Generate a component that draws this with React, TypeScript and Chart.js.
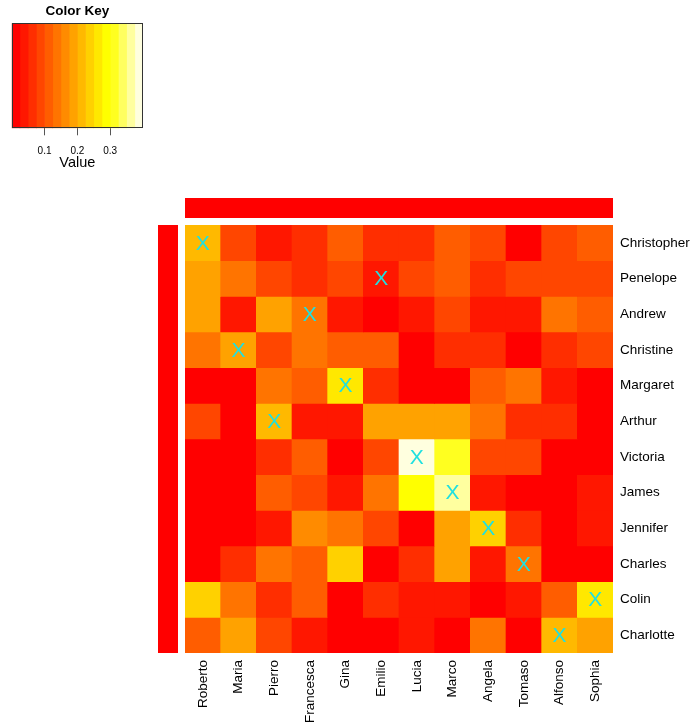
import React, { useEffect, useRef } from 'react';
import { Chart, registerables } from 'chart.js';

Chart.register(...registerables);

// ---------- data ----------
const columnNames = ['Roberto', 'Maria', 'Pierro', 'Francesca', 'Gina', 'Emilio', 'Lucia', 'Marco', 'Angela', 'Tomaso', 'Alfonso', 'Sophia'];
const rowNames = ['Christopher', 'Penelope', 'Andrew', 'Christine', 'Margaret', 'Arthur', 'Victoria', 'James', 'Jennifer', 'Charles', 'Colin', 'Charlotte'];

const christopher = [0.21, 0.09, 0.04, 0.06, 0.11, 0.06, 0.06, 0.11, 0.09, 0.01, 0.09, 0.11];
const penelope = [0.19, 0.14, 0.09, 0.06, 0.09, 0.04, 0.09, 0.11, 0.06, 0.09, 0.09, 0.09];
const andrew = [0.19, 0.04, 0.19, 0.14, 0.04, 0.01, 0.04, 0.09, 0.04, 0.04, 0.14, 0.11];
const christine = [0.14, 0.19, 0.09, 0.14, 0.11, 0.11, 0.01, 0.06, 0.06, 0.01, 0.06, 0.09];
const margaret = [0.01, 0.01, 0.14, 0.11, 0.26, 0.06, 0.01, 0.01, 0.11, 0.14, 0.04, 0.01];
const arthur = [0.09, 0.01, 0.21, 0.04, 0.04, 0.19, 0.19, 0.19, 0.14, 0.06, 0.06, 0.01];
const victoria = [0.01, 0.01, 0.06, 0.11, 0.01, 0.09, 0.39, 0.31, 0.09, 0.09, 0.01, 0.01];
const james = [0.01, 0.01, 0.11, 0.09, 0.04, 0.14, 0.29, 0.36, 0.04, 0.01, 0.01, 0.04];
const jennifer = [0.01, 0.01, 0.04, 0.16, 0.14, 0.09, 0.01, 0.19, 0.24, 0.06, 0.01, 0.04];
const charles = [0.01, 0.06, 0.14, 0.11, 0.24, 0.01, 0.06, 0.19, 0.04, 0.14, 0.01, 0.01];
const colin = [0.24, 0.14, 0.06, 0.11, 0.01, 0.06, 0.04, 0.04, 0.01, 0.04, 0.11, 0.26];
const charlotte = [0.11, 0.19, 0.09, 0.04, 0.01, 0.01, 0.04, 0.01, 0.14, 0.01, 0.21, 0.19];

const cellValues = [christopher, penelope, andrew, christine, margaret, arthur, victoria, james, jennifer, charles, colin, charlotte];

// column index of the "X" note in each row
const noteColumns = [0, 5, 3, 1, 4, 2, 6, 7, 8, 9, 11, 10];
const noteText = 'X';

const rowSideColors = ['#FF0000', '#FF0000', '#FF0000', '#FF0000', '#FF0000', '#FF0000', '#FF0000', '#FF0000', '#FF0000', '#FF0000', '#FF0000', '#FF0000'];
const colSideColors = ['#FF0000', '#FF0000', '#FF0000', '#FF0000', '#FF0000', '#FF0000', '#FF0000', '#FF0000', '#FF0000', '#FF0000', '#FF0000', '#FF0000'];

const keyBreaks = [0, 0.025, 0.05, 0.075, 0.1, 0.125, 0.15, 0.175, 0.2, 0.225, 0.25, 0.275, 0.3, 0.325, 0.35, 0.375, 0.4];
const keyColors = ['#FF0000', '#FF1700', '#FF2E00', '#FF4600', '#FF5D00', '#FF7400', '#FF8B00', '#FFA200', '#FFB900', '#FFD100', '#FFE800', '#FFFF00', '#FFFF20', '#FFFF60', '#FFFF9F', '#FFFFDF'];
const keyTicks = [0.1, 0.2, 0.3];

// ---------- helpers ----------
const FONT = '"Liberation Sans", Arial, Helvetica, sans-serif';
Chart.defaults.font.family = FONT;
Chart.defaults.color = '#000';

function colorFor(v: number): string {
  for (let i = 0; i < keyColors.length; i++) {
    if (v >= keyBreaks[i] && v < keyBreaks[i + 1]) return keyColors[i];
  }
  return v < keyBreaks[0] ? keyColors[0] : keyColors[keyColors.length - 1];
}

const heatmapDecor = {
  id: 'heatmapDecor',
  afterDatasetsDraw(chart: any) {
    const { ctx } = chart;
    const xs = chart.scales.x;
    const ys = chart.scales.y;
    ctx.save();
    // column side bar
    const cy0 = Math.round(Math.min(ys.getPixelForValue(-0.75), ys.getPixelForValue(-0.19)));
    const cy1 = Math.round(Math.max(ys.getPixelForValue(-0.75), ys.getPixelForValue(-0.19)));
    colSideColors.forEach((c, j) => {
      const x0 = Math.round(xs.getPixelForValue(j - 0.5));
      const x1 = Math.round(xs.getPixelForValue(j + 0.5));
      ctx.fillStyle = c;
      ctx.fillRect(x0, cy0, x1 - x0, cy1 - cy0);
    });
    // row side bar
    const rx0 = Math.round(xs.getPixelForValue(-1.25));
    const rx1 = Math.round(xs.getPixelForValue(-0.69));
    rowSideColors.forEach((c, i) => {
      const a = ys.getPixelForValue(i);
      const b = ys.getPixelForValue(i + 1);
      const y0 = Math.round(Math.min(a, b));
      const y1 = Math.round(Math.max(a, b));
      ctx.fillStyle = c;
      ctx.fillRect(rx0, y0, rx1 - rx0, y1 - y0);
    });
    // notes
    ctx.font = '21px ' + FONT;
    ctx.fillStyle = '#20E0E0';
    ctx.textAlign = 'center';
    ctx.textBaseline = 'middle';
    noteColumns.forEach((j, i) => {
      ctx.fillText(noteText, xs.getPixelForValue(j), ys.getPixelForValue(i + 0.5) + 1);
    });
    ctx.restore();
  },
};

const keyFrame = {
  id: 'keyFrame',
  afterDatasetsDraw(chart: any) {
    const { ctx, chartArea } = chart;
    const l = Math.round(chartArea.left) + 0.5;
    const t = Math.round(chartArea.top) + 0.5;
    const r = Math.round(chartArea.right) - 0.5;
    const b = Math.round(chartArea.bottom) - 0.5;
    ctx.save();
    ctx.strokeStyle = '#333';
    ctx.lineWidth = 1;
    ctx.strokeRect(l, t, r - l, b - t);
    ctx.restore();
  },
};

export default function App() {
  const mainRef = useRef<HTMLCanvasElement>(null);
  const keyRef = useRef<HTMLCanvasElement>(null);

  useEffect(() => {
    const datasets = cellValues.map((row, r) => ({
      label: rowNames[r],
      data: row.map(() => [r, r + 1]),
      backgroundColor: row.map((v) => colorFor(v)),
      borderWidth: 0,
      barPercentage: 1,
      categoryPercentage: 1,
      grouped: false,
      xAxisID: 'x',
      yAxisID: 'y',
    }));

    const main = new Chart(mainRef.current as HTMLCanvasElement, {
      type: 'bar',
      data: { labels: columnNames, datasets: datasets as any },
      options: {
        animation: false,
        responsive: false,
        devicePixelRatio: 1,
        layout: { padding: { left: 185, top: 225, right: 0, bottom: 0 } },
        plugins: { legend: { display: false }, tooltip: { enabled: false }, title: { display: false } },
        scales: {
          x: {
            type: 'category',
            position: 'bottom',
            offset: true,
            grid: { display: false, drawTicks: false },
            border: { display: false },
            ticks: {
              autoSkip: false,
              minRotation: 90,
              maxRotation: 90,
              padding: 7,
              color: '#000',
              font: { size: 13.5, family: FONT },
            },
            afterFit: (s: any) => {
              s.height = 74;
            },
          },
          y: {
            type: 'linear',
            min: 0,
            max: 12,
            reverse: true,
            display: false,
          },
          rows: {
            type: 'category',
            axis: 'y',
            labels: rowNames,
            position: 'right',
            offset: true,
            grid: { display: false, drawTicks: false },
            border: { display: false },
            ticks: { padding: 7, color: '#000', font: { size: 13.5, family: FONT } },
            afterFit: (s: any) => {
              s.width = 81;
            },
          },
        } as any,
      },
      plugins: [heatmapDecor],
    });

    const key = new Chart(keyRef.current as HTMLCanvasElement, {
      type: 'bar',
      data: {
        labels: ['key'],
        datasets: keyColors.map((c, i) => ({
          data: [[keyBreaks[i], keyBreaks[i + 1]]],
          backgroundColor: c,
          borderWidth: 0,
          barPercentage: 1,
          categoryPercentage: 1,
          grouped: false,
        })) as any,
      },
      options: {
        animation: false,
        responsive: false,
        devicePixelRatio: 1,
        indexAxis: 'y',
        layout: { padding: { left: 11.7, right: 17, top: 0, bottom: 0 } },
        plugins: {
          legend: { display: false },
          tooltip: { enabled: false },
          title: {
            display: true,
            text: 'Color Key',
            color: '#000',
            font: { size: 13.5, weight: 'bold', family: FONT },
            padding: { top: 2.9, bottom: 4.2 },
            fullSize: false,
          },
        },
        scales: {
          x: {
            type: 'linear',
            min: keyBreaks[0],
            max: keyBreaks[keyBreaks.length - 1],
            offset: false,
            position: 'bottom',
            afterBuildTicks: (s: any) => {
              s.ticks = keyTicks.map((v) => ({ value: v }));
            },
            grid: { display: true, drawOnChartArea: false, drawTicks: true, tickLength: 7, color: '#555', offset: false },
            border: { display: false },
            ticks: {
              padding: 10,
              color: '#000',
              font: { size: 10, family: FONT },
              callback: (v: any) => String(v),
            },
            title: {
              display: true,
              text: 'Value',
              color: '#000',
              font: { size: 14.5, family: FONT },
              padding: { top: 0, bottom: 3.3 },
            },
            afterFit: (s: any) => {
              s.height = 46.7;
            },
          },
          y: { display: false },
        } as any,
      },
      plugins: [keyFrame],
    });

    return () => {
      main.destroy();
      key.destroy();
    };
  }, []);

  return (
    <div style={{ position: 'fixed', left: 0, top: 0, width: 694, height: 727, background: '#fff' }}>
      <canvas ref={mainRef} width={694} height={727} style={{ position: 'absolute', left: 0, top: 0 }} />
      <canvas ref={keyRef} width={160} height={175} style={{ position: 'absolute', left: 0, top: 0 }} />
    </div>
  );
}
